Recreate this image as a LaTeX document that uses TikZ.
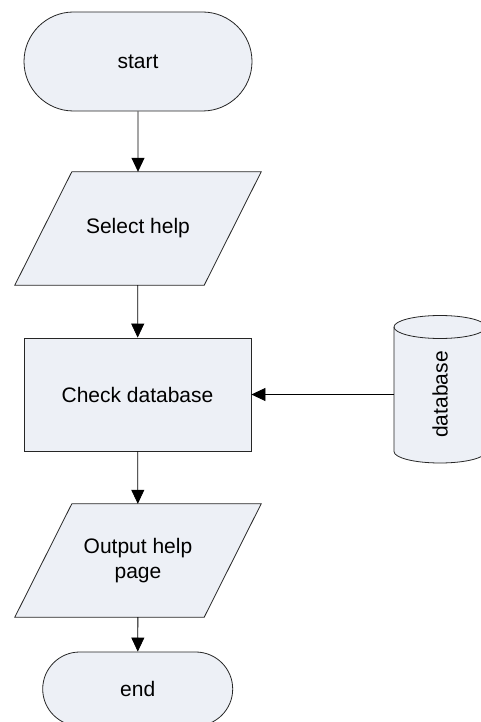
\documentclass[tikz,border=0pt]{standalone}
\usepackage{fontspec}
\setmainfont{Liberation Sans}
\usetikzlibrary{shapes.misc,arrows.meta,backgrounds}
\definecolor{boxfill}{RGB}{237,240,246}
\begin{document}
\begin{tikzpicture}[x=1pt,y=-1pt,
	box/.style={draw=black!85, fill=boxfill, line width=0.8pt, font=\fontsize{21}{24.5}\selectfont, align=center, inner sep=0pt},
	term/.style={box, rounded rectangle},
	io/.style={font=\fontsize{21}{24.5}\selectfont, align=center, inner sep=0pt, minimum width=246pt, minimum height=113pt},
	ioline/.style={draw=black!85, fill=boxfill, line width=0.8pt},
	arr/.style={line width=0.8pt, -{Triangle[length=14pt,width=13pt]}}]
	\useasboundingbox (0,0) rectangle (481,722);
	% database drum
	\filldraw[draw=black!85, fill=boxfill, line width=0.8pt] (394,327) -- (394,451.5)
		arc[start angle=180, end angle=0, x radius=46, y radius=11.5] -- (486,327)
		arc[start angle=0, end angle=-180, x radius=46, y radius=11.5] -- cycle;
	\draw[black!85, line width=0.8pt] (394,327) arc[start angle=180, end angle=0, x radius=46, y radius=11.5];
	\node[font=\fontsize{21}{24.5}\selectfont, rotate=90, inner sep=0pt] (db) at (440,394.5) {database};
	\coordinate (dbin) at (394,394.5);
	% flow
	\node[term, minimum width=228pt, minimum height=99pt] (start) at (138,61.5) {start};
	\node[io] (sel) at (138,228.5) {Select help};
	\node[box, minimum width=227pt, minimum height=113pt] (chk) at (137.5,394.5) {Check database};
	\node[io] (out) at (138,560.5) {Output help\\page};
	\node[term, minimum width=190pt, minimum height=74pt] (end) at (137.7,689) {end};
	\begin{scope}[on background layer]
		\foreach \n in {sel,out}
			\draw[ioline] ([xshift=57pt]\n.north west) -- (\n.north east)
				-- ([xshift=-57pt]\n.south east) -- (\n.south west) -- cycle;
	\end{scope}
	\draw[arr] (start) -- (sel);
	\draw[arr] (sel) -- (chk);
	\draw[arr] (chk) -- (out);
	\draw[arr] (out) -- (end);
	\draw[arr] (dbin) -- (chk.east);
\end{tikzpicture}
\end{document}
